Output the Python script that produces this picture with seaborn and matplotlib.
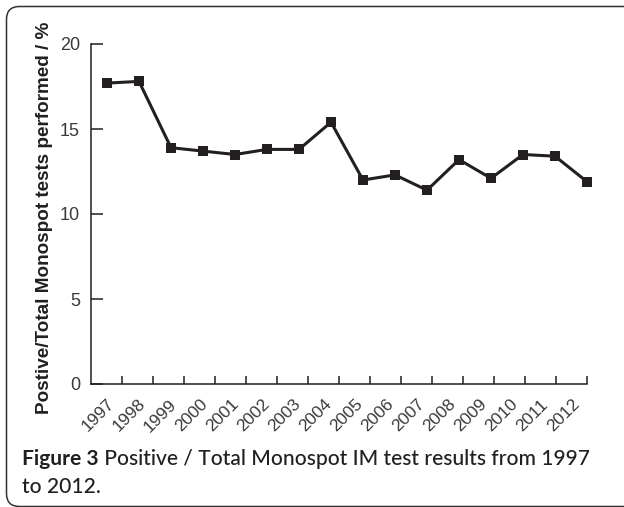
import numpy as np
import pandas as pd
import matplotlib
matplotlib.use("Agg")
import matplotlib.pyplot as plt
import seaborn as sns
from matplotlib.patches import FancyBboxPatch
from matplotlib.transforms import IdentityTransform

# data
years = ["1997", "1998", "1999", "2000", "2001", "2002", "2003", "2004",
         "2005", "2006", "2007", "2008", "2009", "2010", "2011", "2012"]
positive_pct = [17.7, 17.8, 13.9, 13.7, 13.5, 13.8, 13.8, 15.4,
                12.0, 12.3, 11.4, 13.2, 12.1, 13.5, 13.4, 11.9]
y_ticks = [0, 5, 10, 15, 20]

df = pd.DataFrame({"idx": np.arange(len(years)), "year": years, "pct": positive_pct})

sns.set_style("ticks")
plt.rcParams["font.family"] = ["Liberation Sans", "DejaVu Sans"]

ink = "#231f20"
fig = plt.figure(figsize=(6.24, 5.07), dpi=100)
ax = fig.add_axes([91 / 624, 1 - 384 / 507, 496 / 624, 340 / 507])

sns.lineplot(data=df, x="idx", y="pct", ax=ax, color=ink, linewidth=2.2,
             marker="s", markersize=7.5, markeredgewidth=0, markerfacecolor=ink)
for line in ax.lines:
    line.set_clip_on(False)

n = len(years)
ax.set_xlim(-0.5, n - 1)
ax.set_ylim(0, 20)
step = (n - 0.5) / n

# category boundaries get the tick marks, labels sit in between
ax.set_xticks([-0.5 + k * step for k in range(1, n + 1)], minor=True)
ax.set_xticks([-0.5 + (i + 0.5) * step for i in range(n)])
ax.set_xticklabels(years, rotation=45, ha="right", rotation_mode="anchor",
                   fontsize=12.5, color="#3a3a3a")
ax.tick_params(axis="x", which="major", length=0, pad=9)
ax.tick_params(axis="x", which="minor", direction="in", length=6, width=1.1, color=ink)

ax.set_yticks(y_ticks)
ax.set_yticklabels([str(v) for v in y_ticks], fontsize=13, color="#3a3a3a")
ax.tick_params(axis="y", direction="in", length=8.5, width=1.1, color=ink, pad=8)

for s in ["top", "right"]:
    ax.spines[s].set_visible(False)
for s in ["left", "bottom"]:
    ax.spines[s].set_linewidth(1.1)
    ax.spines[s].set_color(ink)

ax.set_xlabel("")
ax.set_ylabel("Postive/Total Monospot tests performed / %", fontsize=13.6,
              fontweight="bold", color=ink)
ax.yaxis.set_label_coords(-0.093, 0.488)
ax.yaxis.label.set_verticalalignment("center")

# caption: bold lead-in, then the regular text on the same baseline
cap_font = ["Lato", "DejaVu Sans"]
cap_size = 15.1
y1 = 1 - 465 / 507
cap = fig.text(22 / 624, y1, "Figure 3", fontsize=cap_size, fontweight="bold",
               color=ink, family=cap_font, va="baseline")
fig.canvas.draw()
x_after = cap.get_window_extent().x1 / fig.bbox.width
fig.text(x_after, y1, " Positive / Total Monospot IM test results from 1997",
         fontsize=cap_size, color=ink, family=cap_font, fontweight="medium",
         va="baseline")
fig.text(22 / 624, 1 - 493 / 507, "to 2012.", fontsize=cap_size, color=ink,
         family=cap_font, fontweight="medium", va="baseline")

# rounded frame, open at the right
frame = FancyBboxPatch((6.5, 0.5), 700, 500, boxstyle="round,pad=0,rounding_size=13",
                       transform=IdentityTransform(), fill=False, edgecolor="#333333",
                       linewidth=1.1)
fig.add_artist(frame)

fig.savefig("out.png", dpi=100)
